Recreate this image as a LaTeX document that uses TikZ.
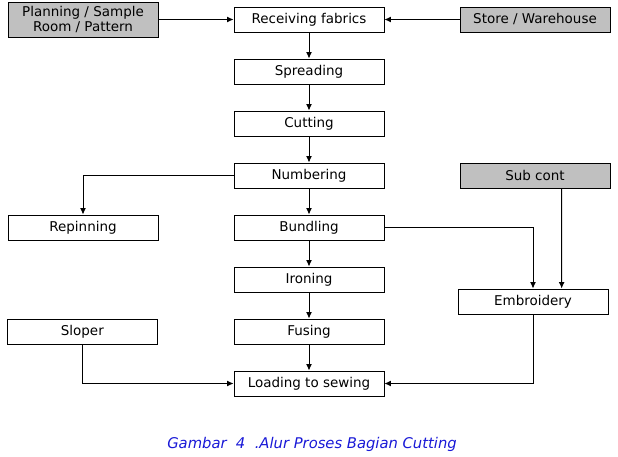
\documentclass[tikz,border=0pt]{standalone}
\usepackage{fontspec}
\setmainfont{DejaVu Sans}
\usetikzlibrary{calc, arrows.meta}
\definecolor{boxgray}{RGB}{192,192,192}
\definecolor{capblue}{RGB}{25,25,215}
\tikzstyle{blk}=[draw, minimum width=4.5cm, minimum height=0.75cm, inner sep=0pt, font=\fontsize{11.5}{12}\selectfont]
\tikzstyle{src}=[blk, fill=boxgray]

\begin{document}
\begin{tikzpicture}[node distance=1.56cm, >={Latex[length=5.5pt,width=5pt]}, line width=0.8pt]
    \useasboundingbox (-9.27,0.585) rectangle (9.27,-13.095);
    \node [blk] (recv) {Receiving fabrics};
    \node [src, minimum height=1.05cm, align=center] (plan) [left of=recv, node distance=6.78cm] {Planning / Sample\\Room / Pattern};
    \node [src] (store) [right of=recv, node distance=6.78cm] {Store / Warehouse};
    \node [blk] (spread) [below of=recv] {Spreading};
    \node [blk] (cut) [below of=spread] {Cutting};
    \node [blk] (numb) [below of=cut] {Numbering};
    \node [src] (subc) [right of=numb, node distance=6.78cm] {Sub cont};
    \node [blk] (bundl) [below of=numb] {Bundling};
    \node [blk] (repin) [left of=bundl, node distance=6.78cm] {Repinning};
    \node [blk] (iron) [below of=bundl] {Ironing};
    \node [blk] (embr) [below of=subc, node distance=3.78cm, xshift=-0.06cm] {Embroidery};
    \node [blk] (fuse) [below of=iron] {Fusing};
    \node [blk] (slop) [left of=fuse, node distance=6.8cm] {Sloper};
    \node [blk] (load) [below of=fuse] {Loading to sewing};
    \node [text=capblue, font=\fontsize{12.6}{13}\selectfont\itshape] (cap) [below of=load, node distance=1.82cm, xshift=0.09cm] {Gambar\ \ 4\ \ .Alur Proses Bagian Cutting};

    \draw[->] (plan) -- (recv);
    \draw[->] (store) -- (recv);
    \draw[->] (recv) -- (spread);
    \draw[->] (spread) -- (cut);
    \draw[->] (cut) -- (numb);
    \draw[->] (numb) -- (bundl);
    \draw[->] (numb.west) -| (repin.north);
    \draw[->] (bundl) -- (iron);
    \draw[->] (bundl.east) -| (embr.north);
    \draw[->] ($(subc.south)+(0.8,0)$) -- ($(embr.north)+(0.86,0)$);
    \draw[->] (iron) -- (fuse);
    \draw[->] (fuse) -- (load);
    \draw[->] (slop.south) |- (load.west);
    \draw[->] (embr.south) |- (load.east);
\end{tikzpicture}
\end{document}
